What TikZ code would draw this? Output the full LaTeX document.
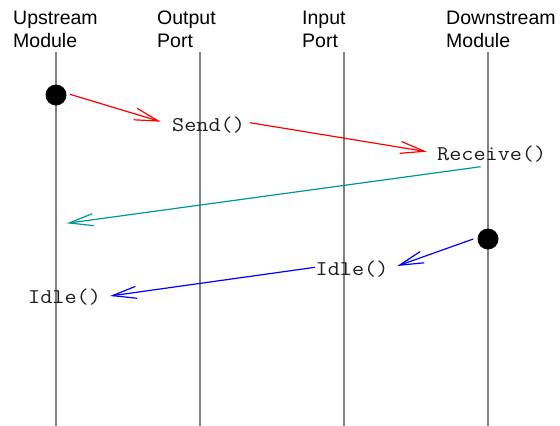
\documentclass[tikz,border=0pt]{standalone}
\usepackage{fontspec}
\usepackage{graphicx}
\setmainfont{Liberation Sans}
\usetikzlibrary{arrows.meta}
\definecolor{lifegray}{RGB}{128,128,128}
\definecolor{tealc}{RGB}{0,150,150}
\definecolor{calltext}{RGB}{30,30,30}
\newcommand{\calltxt}[1]{\scalebox{1.12}[1]{#1}}
\begin{document}
\begin{tikzpicture}[x=1pt,y=-1pt,
  header/.style={anchor=north west,inner sep=0pt,align=left,font=\fontsize{19.5}{23}\selectfont},
  call/.style={anchor=base west,inner sep=0pt,text=calltext,font=\ttfamily\fontsize{21}{23}\selectfont},
  lifeline/.style={draw=lifegray,line width=1.5pt},
  dotnode/.style={circle,fill=black,minimum size=21pt,inner sep=0pt},
  msg/.style={line width=1.2pt,-{Straight Barb[length=24pt,width=12pt]}}]
\useasboundingbox (0,0) rectangle (560,426);
% headers
\node[header] (hu) at (13,10.5) {Upstream\\Module};
\node[header] (ho) at (157,10.5) {Output\\Port};
\node[header] (hi) at (302,10.5) {Input\\Port};
\node[header] (hd) at (446,10.5) {Downstream\\Module};
% lifelines
\coordinate (lu1) at (56,52);  \coordinate (lu2) at (56,426);
\coordinate (lo1) at (200,52); \coordinate (lo2) at (200,426);
\coordinate (li1) at (344,52); \coordinate (li2) at (344,426);
\coordinate (ld1) at (488,52); \coordinate (ld2) at (488,426);
\draw[lifeline] (lu1) -- (lu2);
\draw[lifeline] (lo1) -- (lo2);
\draw[lifeline] (li1) -- (li2);
\draw[lifeline] (ld1) -- (ld2);
% activation dots
\node[dotnode] (du) at (56,95) {};
\node[dotnode] (dd) at (488,239) {};
% call labels
\node[call] (send) at (172,131.7) {\calltxt{Send()}};
\node[call] (recv) at (437,160.7) {\calltxt{Receive()}};
\node[call] (idler) at (315.5,275) {\calltxt{Idle()}};
\node[call] (idlel) at (28,303) {\calltxt{Idle()}};
% arrow end points
\coordinate (a1s) at (70,94.3);   \coordinate (a1e) at (160.7,121.7);
\coordinate (a2s) at (250,122.7); \coordinate (a2e) at (426.7,151.7);
\coordinate (a3s) at (480.7,166.7); \coordinate (a3e) at (66.7,223.3);
\coordinate (a4s) at (473.3,239); \coordinate (a4e) at (397.3,266);
\coordinate (a5s) at (315,267.3); \coordinate (a5e) at (110,296);
% messages
\draw[msg,red] (a1s) -- (a1e);
\draw[msg,red] (a2s) -- (a2e);
\draw[msg,tealc] (a3s) -- (a3e);
\draw[msg,blue] (a4s) -- (a4e);
\draw[msg,blue] (a5s) -- (a5e);
\end{tikzpicture}
\end{document}
